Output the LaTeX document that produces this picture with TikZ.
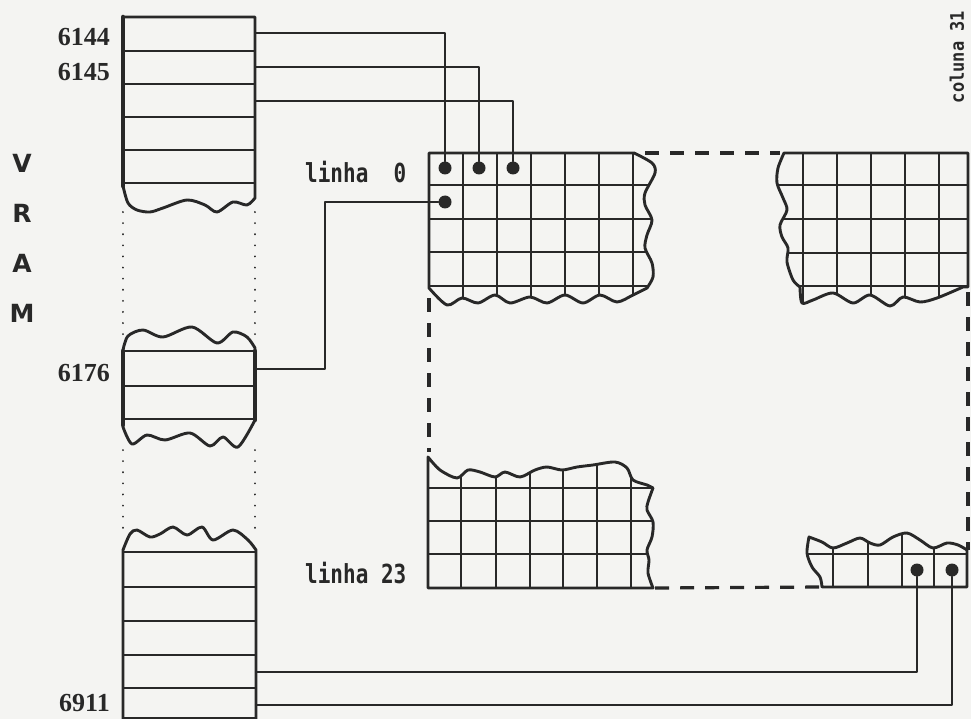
\documentclass[tikz,border=0pt]{standalone}
\usepackage{fontspec}
\usepackage{graphicx}
\newfontfamily\monof{DejaVu Sans Mono}
\newfontfamily\sansf{DejaVu Sans}
\newfontfamily\seriff{Liberation Serif}
\definecolor{ink}{RGB}{40,40,40}
\definecolor{paper}{RGB}{244,244,242}
\begin{document}
\begin{tikzpicture}[x=1pt,y=-1pt, line join=round, line cap=round,
  gridline/.style={ink, line width=2.7pt},
  outline/.style={ink, line width=2.9pt},
  conn/.style={ink, line width=2.4pt},
  dashline/.style={ink, line width=3.2pt, dash pattern=on 14pt off 11pt, line cap=butt},
  dotline/.style={ink, line width=2pt, dash pattern=on 0.1pt off 11pt, line cap=round},
  dot/.style={circle, fill=ink, inner sep=0pt, minimum size=13pt},
  addr/.style={font=\seriff\bfseries\fontsize{26}{26}\selectfont, text=ink, anchor=east, inner sep=0pt},
  lbl/.style={font=\monof\bfseries\fontsize{21}{21}\selectfont, text=ink, inner sep=0pt, anchor=west},
  collbl/.style={font=\monof\bfseries\fontsize{17}{17}\selectfont, text=ink, inner sep=0pt, rotate=90},
  vram/.style={font=\sansf\bfseries\fontsize{25}{25}\selectfont, text=ink, inner sep=0pt}]

\fill[paper] (0,0) rectangle (971,719);
\useasboundingbox (0,0) rectangle (971,719);

% ---------- VRAM letters ----------
\node[vram] (lV) at (22,163) {V};
\node[vram] (lR) at (22,213) {R};
\node[vram] (lA) at (22,263) {A};
\node[vram] (lM) at (22,313) {M};

% ---------- VRAM top box ----------
\def\vtop{(123,17) -- (255,17) -- (255,198) -- plot[smooth] coordinates {(255,198) (247,205) (233,202) (217,212) (205,205) (187,200) (163,208) (150,212) (137,210) (128,203) (123,186)} -- cycle}
\begin{scope}
  \clip \vtop;
  \foreach \yy in {51,84,117,150,183} \draw[gridline] (123,\yy) -- (255,\yy);
\end{scope}
\draw[outline] \vtop;
\draw[ink, line width=4.5pt] (123,17) -- (123,186);

% ---------- VRAM middle box ----------
\def\vmid{plot[smooth] coordinates {(123,350) (128,336) (143,330) (163,337) (192,327) (217,343) (233,332) (247,337) (255,348)} -- (255,420) -- plot[smooth] coordinates {(255,420) (238,447) (223,437) (210,446) (190,433) (165,440) (147,435) (132,444) (123,427)} -- cycle}
\begin{scope}
  \clip \vmid;
  \foreach \yy in {351,386,419} \draw[gridline] (123,\yy) -- (255,\yy);
\end{scope}
\draw[outline] \vmid;
\draw[ink, line width=4.5pt] (123,351) -- (123,425);
\draw[ink, line width=4.5pt] (255,351) -- (255,420);

% ---------- VRAM bottom box ----------
\def\vbot{plot[smooth] coordinates {(123,550) (130,534) (137,530) (150,537) (160,534) (173,527) (187,535) (202,527) (213,540) (233,530) (248,540) (256,550)} -- (256,719) -- (123,719) -- cycle}
\begin{scope}
  \clip \vbot;
  \foreach \yy in {552,587,621,655,688,718} \draw[gridline] (123,\yy) -- (256,\yy);
\end{scope}
\draw[outline] \vbot;

% dotted continuation of VRAM
\draw[dotline] (123,212) -- (123,335);
\draw[dotline] (255,212) -- (255,335);
\draw[dotline] (123,450) -- (123,530);
\draw[dotline] (255,450) -- (255,530);

% addresses
\node[addr] (a6144) at (110,37) {6144};
\node[addr] (a6145) at (110,72) {6145};
\node[addr] (a6176) at (110,373) {6176};
\node[addr] (a6911) at (110,703) {6911};

% ---------- main grid, top-left (linha 0) ----------
\def\gtl{(429,153) -- (634,153) -- plot[smooth] coordinates {(634,153) (652,163) (655,173) (645,193) (645,205) (652,220) (647,235) (645,248) (652,263) (653,277) (647,288)} -- plot[smooth] coordinates {(647,288) (633,295) (617,302) (600,295) (583,303) (565,295) (547,303) (530,297) (510,303) (495,295) (478,303) (462,298) (447,305) (429,288)} -- cycle}
\begin{scope}
  \clip \gtl;
  \foreach \yy in {185,219,252,286} \draw[gridline] (429,\yy) -- (660,\yy);
  \foreach \xx in {463,497,531,565,599,633} \draw[gridline] (\xx,153) -- (\xx,310);
\end{scope}
\draw[outline] \gtl;

% ---------- top-right grid ----------
\def\gtr{(784,153) -- plot[smooth] coordinates {(784,153) (778,168) (777,183) (783,198) (787,210) (780,225) (782,237) (788,248) (787,262) (793,280) (800,287)} -- plot[smooth] coordinates {(800,287) (802,303) (813,300) (833,293) (853,303) (870,295) (890,306) (903,297) (920,302) (937,298) (963,287)} -- (968,287) -- (968,153) -- cycle}
\begin{scope}
  \clip \gtr;
  \foreach \yy in {185,219,253,286} \draw[gridline] (770,\yy) -- (968,\yy);
  \foreach \xx in {803,837,871,905,939} \draw[gridline] (\xx,153) -- (\xx,310);
\end{scope}
\draw[outline] \gtr;

% ---------- bottom-left grid (linha 23) ----------
\def\gbl{plot[smooth] coordinates {(428,457) (440,470) (457,478) (468,470) (480,472) (495,477) (505,472) (520,477) (535,470) (547,467) (562,470) (577,467) (593,465) (615,462) (627,468) (633,480) (647,485) (653,488)} -- plot[smooth] coordinates {(653,488) (648,502) (647,510) (653,522) (652,537) (647,550) (649,560) (648,573) (653,588)} -- (428,588) -- cycle}
\begin{scope}
  \clip \gbl;
  \foreach \yy in {488,521,554} \draw[gridline] (428,\yy) -- (660,\yy);
  \foreach \xx in {461,496,530,563,597,631} \draw[gridline] (\xx,450) -- (\xx,588);
\end{scope}
\draw[outline] \gbl;

% ---------- bottom-right grid ----------
\def\gbr{plot[smooth] coordinates {(822,587) (820,577) (812,567) (807,553) (809,537)} -- plot[smooth] coordinates {(809,537) (822,542) (833,548) (847,543) (860,538) (870,543) (880,545) (893,537) (907,533) (920,540) (933,548) (947,543) (958,545) (967,550)} -- (967,587) -- cycle}
\begin{scope}
  \clip \gbr;
  \draw[gridline] (800,554) -- (967,554);
  \foreach \xx in {833,868,902,934} \draw[gridline] (\xx,530) -- (\xx,587);
\end{scope}
\draw[outline] \gbr;

% ---------- dashed frame ----------
\coordinate (tA) at (645,153);  \coordinate (tB) at (780,153);
\coordinate (lA1) at (429,298); \coordinate (lB1) at (429,452);
\coordinate (bA) at (655,588);  \coordinate (bB) at (822,587);
\coordinate (rA) at (968,292);  \coordinate (rB) at (968,550);
\draw[dashline] (tA) -- (tB);
\draw[dashline] (lA1) -- (lB1);
\draw[dashline] (bA) -- (bB);
\draw[dashline] (rA) -- (rB);

% ---------- dots ----------
\node[dot] (d1) at (445,168) {};
\node[dot] (d2) at (479,168) {};
\node[dot] (d3) at (513,168) {};
\node[dot] (d4) at (445,202) {};
\node[dot] (d5) at (917,570) {};
\node[dot] (d6) at (952,570) {};

% ---------- connectors ----------
\coordinate (s1) at (256,33);
\coordinate (s2) at (256,67);
\coordinate (s3) at (256,101);
\coordinate (s4) at (256,369);
\coordinate (k4) at (325,369);
\coordinate (s5) at (256,672);
\coordinate (s6) at (256,705);
\draw[conn] (s1) -| (d1);
\draw[conn] (s2) -| (d2);
\draw[conn] (s3) -| (d3);
\draw[conn] (s4) -- (k4) |- (d4);
\draw[conn] (s5) -| (d5);
\draw[conn] (s6) -| (d6);

% ---------- labels ----------
\node[lbl] (l0) at (305,172) {\scalebox{1}[1.25]{linha \phantom{2}0}};
\node[lbl] (l23) at (305,573) {\scalebox{1}[1.25]{linha 23}};
\node[collbl] (c31) at (957,57) {\scalebox{1}[1.1]{coluna 31}};
\end{tikzpicture}
\end{document}
